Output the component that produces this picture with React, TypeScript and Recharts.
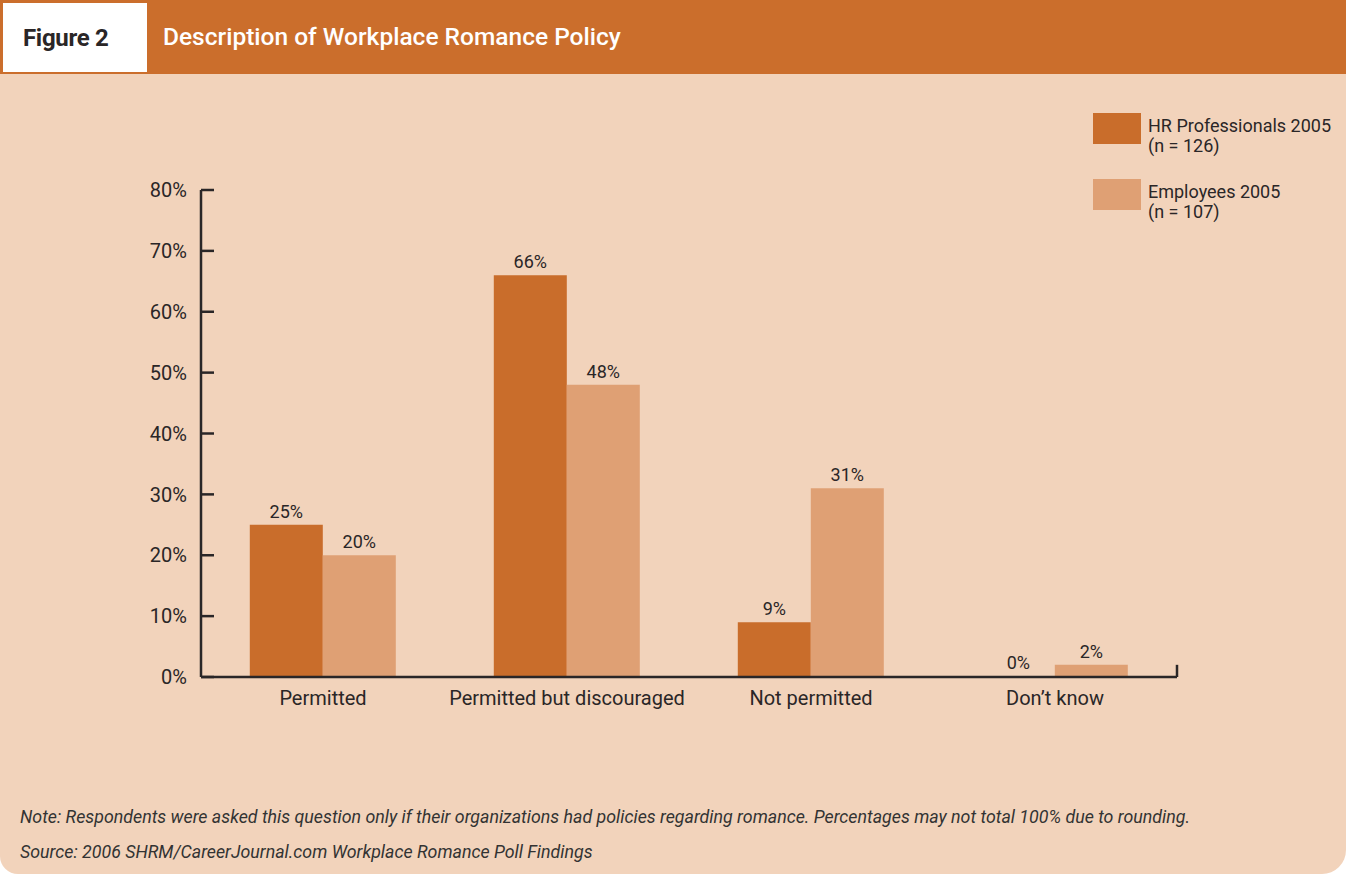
import { BarChart, Bar, XAxis, YAxis, LabelList, ReferenceLine } from "recharts";

const categories = ["Permitted", "Permitted but discouraged", "Not permitted", "Don’t know"];
const hrValues = [25, 66, 9, 0];
const employeeValues = [20, 48, 31, 2];
const yTicks = [0, 10, 20, 30, 40, 50, 60, 70, 80];
const seriesNames = ["HR Professionals 2005", "Employees 2005"];
const seriesCounts = ["(n = 126)", "(n = 107)"];

const data = categories.map((category, i) => ({
  category,
  hr: hrValues[i],
  emp: employeeValues[i],
}));

const INK = "#2a2627";
const HR_COLOR = "#c96d2b";
const EMP_COLOR = "#dfa074";
const PEACH = "#f2d3bb";
const FONT = "Roboto, 'Liberation Sans', sans-serif";

function YTick(props: any) {
  const { x, y, payload } = props;
  return (
    <g>
      <text x={x} y={y} dy="0.36em" textAnchor="end" fontSize={20} fill={INK} fontFamily={FONT}>
        {`${payload.value}%`}
      </text>
      <line x1={x + 14} x2={x + 27} y1={y} y2={y} stroke={INK} strokeWidth={2.5} />
    </g>
  );
}

export default function App() {
  const colors = [HR_COLOR, EMP_COLOR];
  const noteStyle = {
    position: "absolute" as const, left: 20, fontSize: 17.8, fontStyle: "italic",
    color: "#333", whiteSpace: "nowrap" as const, lineHeight: "22px",
  };
  return (
    <div style={{ position: "absolute", left: 0, top: 0, width: 1346, height: 875, background: "#fff", fontFamily: FONT }}>
      <div
        style={{
          position: "absolute", left: 0, top: 0, width: 1346, height: 874,
          background: PEACH, borderRadius: "0 0 24px 18px", overflow: "hidden",
        }}
      >
        <div style={{ position: "absolute", left: 0, top: 0, width: 1346, height: 74, background: "#cb6e2c" }} />
        <div
          style={{
            position: "absolute", left: 3, top: 3, width: 144, height: 69, background: "#fff",
            display: "flex", alignItems: "center", paddingLeft: 20, boxSizing: "border-box",
            fontWeight: 700, fontSize: 24, color: INK, letterSpacing: "-0.3px",
          }}
        >
          Figure 2
        </div>
        <div
          style={{
            position: "absolute", left: 163, top: 21, fontSize: 24.5, fontWeight: 500,
            color: "#fff", lineHeight: "32px",
          }}
        >
          Description of Workplace Romance Policy
        </div>

        <BarChart
          width={1346}
          height={875}
          data={data}
          margin={{ top: 190, right: 169, bottom: 158, left: 141 }}
          barCategoryGap="20%"
          barGap={0}
          style={{ position: "absolute", left: 0, top: 0 }}
        >
          <XAxis
            dataKey="category"
            height={40}
            tickLine={false}
            tickSize={0}
            tickMargin={14}
            axisLine={{ stroke: INK, strokeWidth: 2.5 }}
            tick={{ fill: INK, fontSize: 20, fontFamily: FONT }}
          />
          <YAxis
            width={60}
            domain={[0, 80]}
            ticks={yTicks}
            interval={0}
            tickLine={false}
            tickSize={0}
            tickMargin={14}
            axisLine={{ stroke: INK, strokeWidth: 2.5 }}
            tick={<YTick />}
          />
          <ReferenceLine
            segment={[{ x: categories[3], y: 0 }, { x: categories[3], y: 2 }]}
            position="end"
            stroke={INK}
            strokeWidth={2.5}
          />
          <Bar dataKey="hr" fill={HR_COLOR} minPointSize={1} isAnimationActive={false}>
            <LabelList dataKey="hr" position="top" offset={7} formatter={(v: any) => `${v}%`} fill={INK} fontSize={18} fontFamily={FONT} />
          </Bar>
          <Bar dataKey="emp" fill={EMP_COLOR} isAnimationActive={false}>
            <LabelList dataKey="emp" position="top" offset={7} formatter={(v: any) => `${v}%`} fill={INK} fontSize={18} fontFamily={FONT} />
          </Bar>
        </BarChart>

        {seriesNames.map((name, i) => (
          <div key={name} style={{ position: "absolute", left: 1093, top: 113 + i * 66 }}>
            <div style={{ position: "absolute", left: 0, top: 0, width: 48, height: 31, background: colors[i] }} />
            <div style={{ position: "absolute", left: 55, top: 3, fontSize: 18, lineHeight: "20px", color: INK, whiteSpace: "nowrap" }}>
              {name}
            </div>
            <div style={{ position: "absolute", left: 55, top: 23, fontSize: 18, lineHeight: "20px", color: INK, whiteSpace: "nowrap" }}>
              {seriesCounts[i]}
            </div>
          </div>
        ))}

        <div style={{ ...noteStyle, top: 806 }}>
          Note: Respondents were asked this question only if their organizations had policies regarding romance. Percentages may not total 100% due to rounding.
        </div>
        <div style={{ ...noteStyle, top: 841 }}>
          Source: 2006 SHRM/CareerJournal.com Workplace Romance Poll Findings
        </div>
      </div>
    </div>
  );
}
